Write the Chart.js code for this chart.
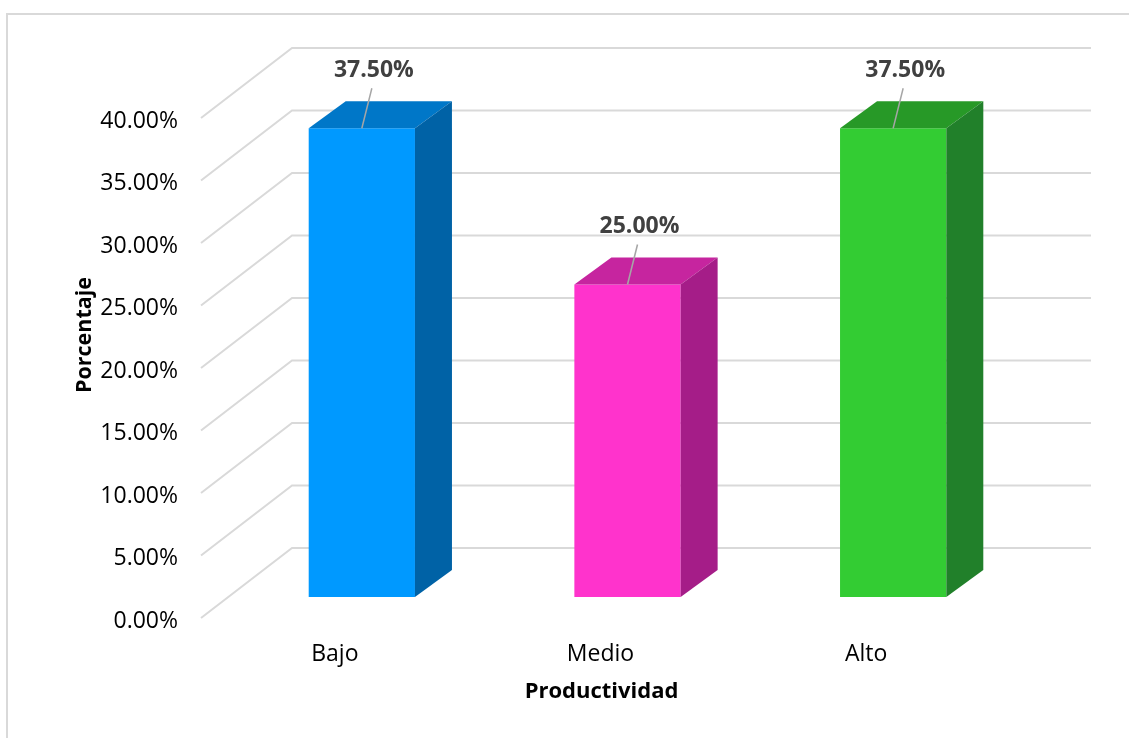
<!DOCTYPE html>
<html>
<head>
<meta charset="utf-8">
<script src="https://cdn.jsdelivr.net/npm/chart.js@4/dist/chart.umd.min.js"></script>
<style>
  html, body { margin: 0; padding: 0; background: #fff; }
  #wrap { width: 1129px; height: 738px; position: relative; overflow: hidden; }
</style>
</head>
<body>
<div id="wrap"><canvas id="chart"></canvas></div>
<script>
// data
const categories = ['Bajo', 'Medio', 'Alto'];
const percentages = [37.5, 25.0, 37.5];
const yTicks = [0, 5, 10, 15, 20, 25, 30, 35, 40];

// face colours: front / top / side
const frontColors = ['#0099ff', '#ff33cc', '#33cc33'];
const topColors = ['#0077c8', '#c6259f', '#279927'];
const sideColors = ['#0062a6', '#a51d88', '#21802a'];

const FONT = '"Open Sans", "DejaVu Sans", sans-serif';

// 3D look: bar depth and floor/wall offsets (pixels)
const depth = { dx: 37, dy: -27 };
const wall = { frontX: -28, frontY: 21, backX: 63, backY: -49, rightX: 65 };

const fakeDepth = {
    id: 'fakeDepth',
    beforeDraw(chart) {
        const ctx = chart.ctx;
        // outer frame (only top and left edges are in view)
        ctx.save();
        ctx.strokeStyle = '#d9d9d9';
        ctx.lineWidth = 2;
        ctx.strokeRect(7, 14, 3000, 3000);
        ctx.restore();
    },
    beforeDatasetsDraw(chart) {
        const { ctx, chartArea } = chart;
        const y = chart.scales.y;
        ctx.save();
        ctx.strokeStyle = '#d9d9d9';
        ctx.lineWidth = 2;
        y.ticks.forEach(t => {
            const py = y.getPixelForValue(t.value);
            ctx.beginPath();
            ctx.moveTo(chartArea.left + wall.frontX, py + wall.frontY);
            ctx.lineTo(chartArea.left + wall.backX, py + wall.backY);
            ctx.lineTo(chartArea.right + wall.rightX, py + wall.backY);
            ctx.stroke();
        });
        ctx.restore();
    },
    afterDatasetsDraw(chart) {
        const ctx = chart.ctx;
        const meta = chart.getDatasetMeta(0);
        ctx.save();
        meta.data.forEach((bar, i) => {
            const half = bar.width / 2;
            const l = bar.x - half, r = bar.x + half;
            const t = bar.y, b = bar.base;
            // top face
            ctx.fillStyle = topColors[i];
            ctx.beginPath();
            ctx.moveTo(l, t);
            ctx.lineTo(l + depth.dx, t + depth.dy);
            ctx.lineTo(r + depth.dx, t + depth.dy);
            ctx.lineTo(r, t);
            ctx.closePath();
            ctx.fill();
            // side face
            ctx.fillStyle = sideColors[i];
            ctx.beginPath();
            ctx.moveTo(r, t);
            ctx.lineTo(r + depth.dx, t + depth.dy);
            ctx.lineTo(r + depth.dx, b + depth.dy);
            ctx.lineTo(r, b);
            ctx.closePath();
            ctx.fill();
            // leader line + value label
            ctx.strokeStyle = '#a6a6a6';
            ctx.lineWidth = 1.5;
            ctx.beginPath();
            ctx.moveTo(bar.x, t);
            ctx.lineTo(bar.x + 10, t - 40);
            ctx.stroke();
            ctx.fillStyle = '#404040';
            ctx.font = 'bold 23px ' + FONT;
            ctx.textAlign = 'center';
            ctx.textBaseline = 'middle';
            ctx.fillText(percentages[i].toFixed(2) + '%', bar.x + 12, t - 58);
        });
        ctx.fillStyle = '#000';
        ctx.textAlign = 'center';
        ctx.textBaseline = 'middle';
        // x axis title (sits under the labels, shifted with them)
        const area = chart.chartArea;
        ctx.font = 'bold 22px ' + FONT;
        ctx.fillText('Productividad', (area.left + area.right) / 2 - 26, 692);
        // y axis title
        ctx.translate(85, 335);
        ctx.rotate(-Math.PI / 2);
        ctx.font = 'bold 21.5px ' + FONT;
        ctx.fillText('Porcentaje', 0, 0);
        ctx.restore();
    }
};

const ctx = document.getElementById('chart');

new Chart(ctx, {
    type: 'bar',
    data: {
        labels: categories,
        datasets: [{
            data: percentages,
            backgroundColor: frontColors,
            borderWidth: 0,
            barPercentage: 0.4,
            categoryPercentage: 1
        }]
    },
    options: {
        responsive: true,
        maintainAspectRatio: false,
        animation: false,
        layout: { padding: { top: 97, right: 103, bottom: 0, left: 0 } },
        plugins: {
            legend: { display: false },
            tooltip: { enabled: false }
        },
        scales: {
            x: {
                afterFit: s => { s.height = 141; },
                grid: { display: false, drawTicks: false },
                border: { display: false },
                ticks: {
                    padding: 44,
                    labelOffset: -27,
                    color: '#000',
                    font: { family: FONT, size: 23 }
                }
            },
            y: {
                min: 0,
                max: 40,
                afterFit: s => { s.width = 229; },
                afterBuildTicks: s => { s.ticks = yTicks.map(v => ({ value: v })); },
                grid: { display: false, drawTicks: false },
                border: { display: false },
                ticks: {
                    padding: 51,
                    labelOffset: 24,
                    color: '#000',
                    font: { family: FONT, size: 23 },
                    callback: v => v.toFixed(2) + '%'
                }
            }
        }
    },
    plugins: [fakeDepth]
});
</script>
</body>
</html>
